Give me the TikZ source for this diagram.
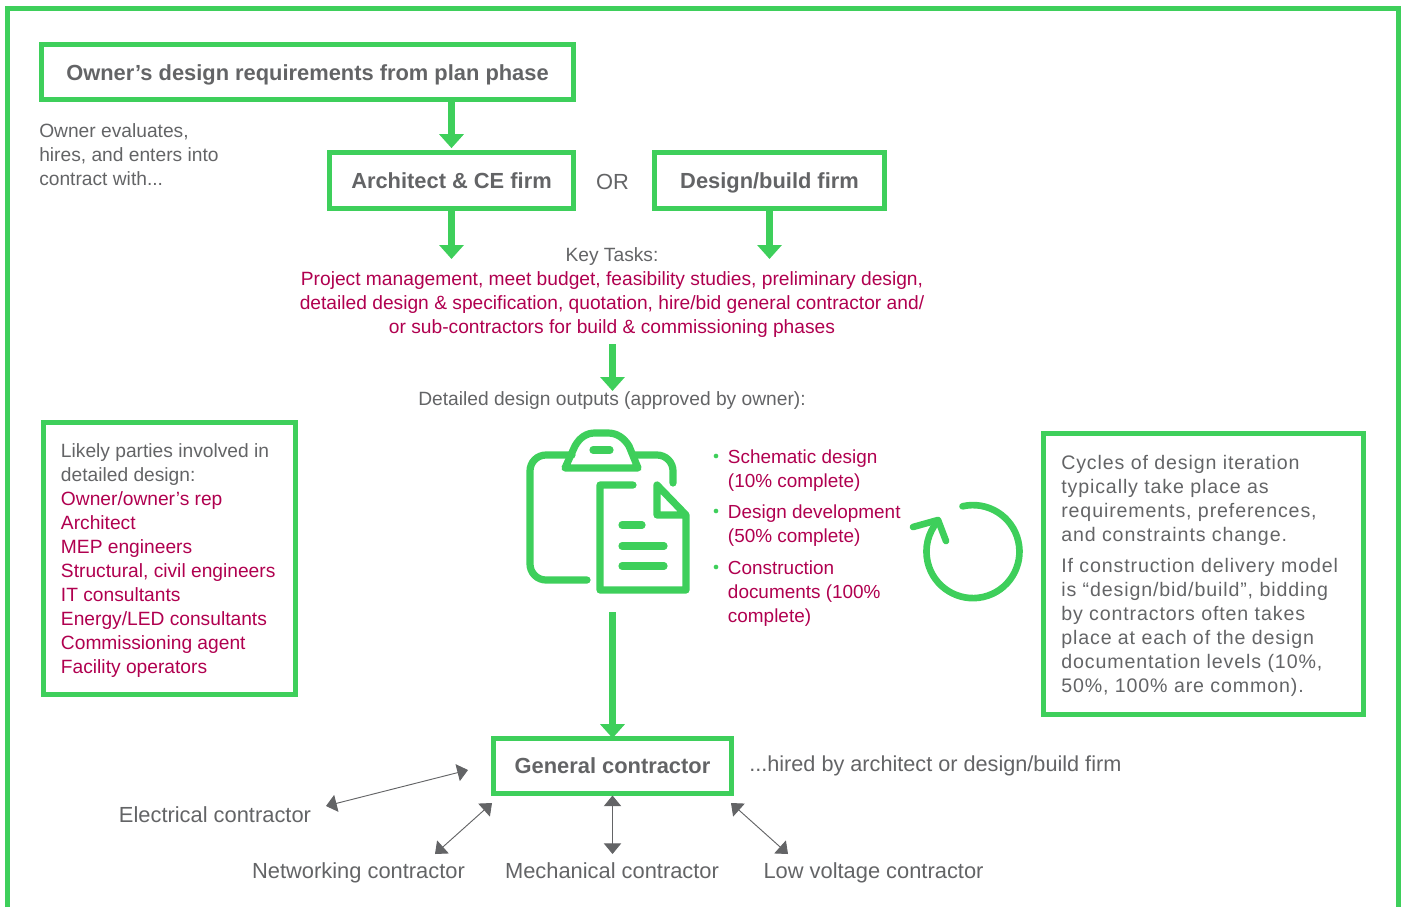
\documentclass[tikz,border=0pt]{standalone}
\usepackage{fontspec}
\setmainfont{Liberation Sans}
\newfontfamily\widefont[LetterSpace=4.5]{Liberation Sans}
\usetikzlibrary{arrows.meta}
\definecolor{framegreen}{HTML}{3ECF5B}
\definecolor{textgray}{HTML}{636466}
\definecolor{taskred}{HTML}{B0004F}
\tikzset{
    greenbox/.style={draw=framegreen,line width=3.75pt,inner sep=0pt,text=textgray,text height=14.4pt,text depth=2pt,font=\fontsize{16.4}{18}\selectfont\bfseries},
    bigarrow/.style={draw=framegreen,line width=5pt,-{Triangle[width=18pt,length=10.5pt]}},
    thinarrow/.style={draw=textgray,line width=0.7pt,{Triangle[width=13pt,length=8pt]}-{Triangle[width=13pt,length=8pt]}},
    graytext/.style={inner sep=0pt,text=textgray,font=\fontsize{14.4}{18}\selectfont},
    redtext/.style={inner sep=0pt,text=taskred,font=\fontsize{14.4}{18}\selectfont},
    leveltext/.style={redtext,font=\fontsize{14.2}{18}\selectfont},
    labeltext/.style={graytext,text height=10pt,text depth=3pt},
    largetext/.style={labeltext,font=\fontsize{16.4}{18}\selectfont},
    widetext/.style={graytext,font=\widefont\fontsize{14.7}{18}\selectfont},
    icon/.style={draw=framegreen,line width=5.4pt,line cap=round,line join=round},
    cycleline/.style={draw=framegreen,line width=5pt,line cap=round,line join=round},
    dot/.style={circle,fill=framegreen,inner sep=0pt,minimum size=3.5pt}
}
\begin{document}
\begin{tikzpicture}[x=0.75pt,y=-0.75pt]
    \useasboundingbox (0,0) rectangle (1405,907);
    % outer frame, open at the bottom edge
    \draw [framegreen,line width=3.75pt] (7.5,907)--(7.5,8.5)--(1398.5,8.5)--(1398.5,907);

    % top boxes
    \node [greenbox,minimum width=399pt,minimum height=41pt] (owner) at (307.5,72) {Owner’s design requirements from plan phase};
    \node [greenbox,minimum width=183pt,minimum height=41.75pt] (arch) at (451.5,180.5) {Architect \& CE firm};
    \node [greenbox,minimum width=172.5pt,minimum height=41.75pt] (build) at (769.5,180.5) {Design/build firm};
    \node [graytext,anchor=north west,align=left] (evaluates) at (39,120.7) {\strut Owner evaluates,\\hires, and enters into\\contract with...};
    \node [largetext] (or) at (612.5,184.5) {OR};

    % key tasks
    \node [labeltext] (keytasks) at (612,257) {Key Tasks:};
    \node [redtext,anchor=north,align=center] (tasks) at (612,268) {\strut Project management, meet budget, feasibility studies, preliminary design,\\detailed design \& specification, quotation, hire/bid general contractor and/\\or sub-contractors for build \& commissioning phases};
    \node [labeltext] (outputs) at (612,401) {Detailed design outputs (approved by owner):};
    \coordinate (archend) at (451.5,259);
    \coordinate (buildend) at (769.5,259);
    \coordinate (tasksend) at (612.5,344);
    \coordinate (outputsend) at (612.5,391);
    \draw [bigarrow,shorten >=1.5pt] (owner.south -| arch) -- (arch.north);
    \draw [bigarrow] (arch.south) -- (archend);
    \draw [bigarrow] (build.south) -- (buildend);
    \draw [bigarrow] (tasksend) -- (outputsend);

    % parties box
    \node [greenbox,minimum width=189pt,minimum height=204pt] (parties) at (169.5,558) {};
    \node [graytext,anchor=north west,align=left] (likely) at (60.7,440.5) {\strut Likely parties involved in\\detailed design:\\
        \color{taskred}Owner/owner’s rep\\\color{taskred}Architect\\\color{taskred}MEP engineers\\\color{taskred}Structural, civil engineers\\\color{taskred}IT consultants\\\color{taskred}Energy/LED consultants\\\color{taskred}Commissioning agent\\\color{taskred}Facility operators};

    % clipboard icon
    \draw [icon,rounded corners=12pt] (587,580)--(530,580)--(530,455)--(572,455);
    \draw [icon,rounded corners=12pt] (635,455)--(673,455)--(673,483);
    \draw [icon] (565,468)--(575,446) .. controls (580,437) and (587,433) .. (595,433)--(608,433) .. controls (617,433) and (624,438) .. (629,446)--(638,468)--cycle;
    \draw [icon] (593,450)--(610,450);
    \draw [icon] (633,485)--(600,485)--(600,590)--(686,590)--(686,515)--(657,485)--(657,515)--(686,515);
    \draw [icon] (622,525)--(642,525);
    \draw [icon] (622,546)--(664,546);
    \draw [icon] (622,566)--(664,566);

    % design levels
    \node [dot] (dota) at (716,456) {};
    \node [dot] (dotb) at (716,511) {};
    \node [dot] (dotc) at (716,567) {};
    \node [leveltext,anchor=north west,align=left] (schematic) at (727.7,446.5) {\strut Schematic design\\(10\% complete)};
    \node [leveltext,anchor=north west,align=left] (development) at (727.7,501.5) {\strut Design development\\(50\% complete)};
    \node [leveltext,anchor=north west,align=left] (construction) at (727.7,557.5) {\strut Construction\\documents (100\%\\complete)};

    % iteration cycle
    \draw [cycleline] (962.5,506.3) arc[start angle=-103,end angle=220,radius=46.5];
    \draw [cycleline] (913,527)--(938,520)--(946,541);

    % iteration note
    \node [greenbox,minimum width=240pt,minimum height=210.5pt] (cycles) at (1203,574) {};
    \node [widetext,anchor=north west,align=left] (iteration) at (1061,452.5) {\strut Cycles of design iteration\\typically take place as\\requirements, preferences,\\and constraints change.};
    \node [widetext,anchor=north west,align=left] (delivery) at (1061,555.8) {\strut If construction delivery model\\is “design/bid/build”, bidding\\by contractors often takes\\place at each of the design\\documentation levels (10\%,\\50\%, 100\% are common).};

    % contractors
    \coordinate (iconend) at (612.5,612);
    \node [greenbox,minimum width=178.5pt,minimum height=41.25pt] (general) at (612.5,765.5) {General contractor};
    \draw [bigarrow,shorten >=-2pt] (iconend) -- (general.north);
    \node [largetext,font=\fontsize{16.25}{18}\selectfont,anchor=west] (hired) at (749,767) {...hired by architect or design/build firm};
    \node [largetext] (electrical) at (215,818) {Electrical contractor};
    \node [largetext] (networking) at (358.5,874) {Networking contractor};
    \node [largetext] (mechanical) at (612,874) {Mechanical contractor};
    \node [largetext] (lowvoltage) at (873.5,874) {Low voltage contractor};
    \coordinate (elecend) at (326,806);
    \coordinate (elecstart) at (468,770);
    \coordinate (netend) at (435,854);
    \coordinate (netstart) at (492,803);
    \coordinate (lowend) at (788,854);
    \coordinate (lowstart) at (731,803);
    \coordinate (mechend) at (612.5,854);
    \draw [thinarrow] (elecstart) -- (elecend);
    \draw [thinarrow] (netstart) -- (netend);
    \draw [thinarrow] (general.south) -- (mechend);
    \draw [thinarrow] (lowstart) -- (lowend);
\end{tikzpicture}
\end{document}
